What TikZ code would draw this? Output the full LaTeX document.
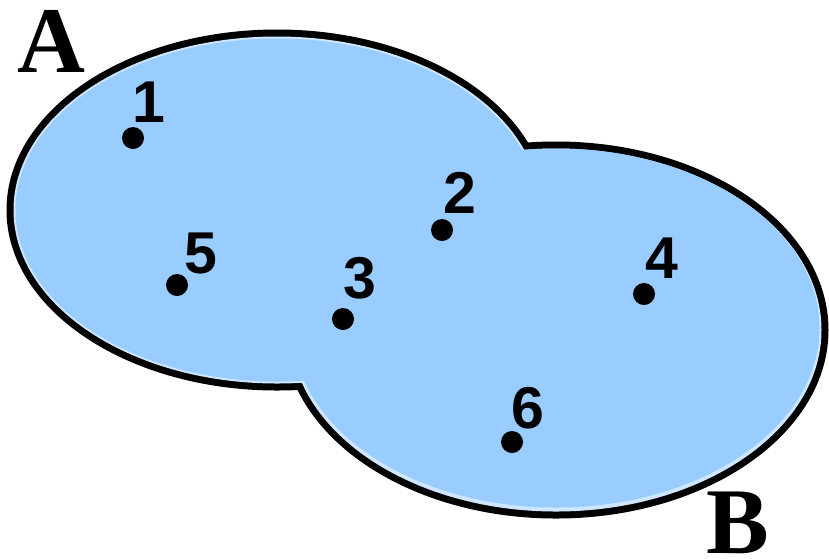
\documentclass[tikz,border=0pt]{standalone}
\usepackage{fontspec}
\setmainfont{Liberation Serif}
\setsansfont{Liberation Sans}

\definecolor{setblue}{RGB}{153,204,255}
\definecolor{rimblue}{RGB}{206,230,255}

\tikzset{
  dot/.style={circle,fill=black,inner sep=0pt,minimum size=22pt},
  numlabel/.style={font=\sffamily\bfseries\fontsize{59}{59}\selectfont,inner sep=0pt,anchor=base},
  setlabel/.style={font=\rmfamily\bfseries\fontsize{94}{94}\selectfont,inner sep=0pt,
                   text height=0.67em,text depth=0pt,anchor=base west},
}

\begin{document}
\begin{tikzpicture}[x=1pt,y=-1pt]
  \useasboundingbox (0,0) rectangle (829,558);

  % --- Parameters ---
  \def\Ax{277}  \def\Ay{210}  % centre of set A
  \def\Arx{267} \def\Ary{177} % radii of set A
  \def\Bx{556}  \def\By{330}  % centre of set B
  \def\Brx{269} \def\Bry{185} % radii of set B
  \def\edge{3.5} % half width of the outline
  \def\rim{2}    % light band just inside the outline

  % --- Outline: both sets grown by half the line width ---
  \fill[black] (\Ax,\Ay) ellipse [x radius=\Arx+\edge, y radius=\Ary+\edge]
               (\Bx,\By) ellipse [x radius=\Brx+\edge, y radius=\Bry+\edge];

  % --- Light band ---
  \fill[rimblue] (\Ax,\Ay) ellipse [x radius=\Arx-\edge, y radius=\Ary-\edge]
                 (\Bx,\By) ellipse [x radius=\Brx-\edge, y radius=\Bry-\edge];

  % --- Inside of the union (B shifted up a little: wider band at its bottom) ---
  \fill[setblue] (\Ax,\Ay) ellipse [x radius=\Arx-\edge-\rim, y radius=\Ary-\edge-\rim]
                 (\Bx,\By-2) ellipse [x radius=\Brx-\edge-\rim, y radius=\Bry-\edge-\rim];

  % --- Points and their numbers ---
  % index / point x / point y / number x / number baseline
  \foreach \i/\px/\py/\lx/\ly in {1/133/138/148.5/122, 2/442/230/460/213,
                                  3/343/319/360/298,   4/644/294/662/278,
                                  5/177/285/200.5/273, 6/512/442/528/428}{
    \node[dot] (p\i) at (\px,\py) {};
    \node[numlabel] (n\i) at (\lx,\ly) {\i};
  }

  % --- Set names ---
  \node[setlabel] (setA) at (17,72)   {A};
  \node[setlabel] (setB) at (706,553) {B};
\end{tikzpicture}
\end{document}
